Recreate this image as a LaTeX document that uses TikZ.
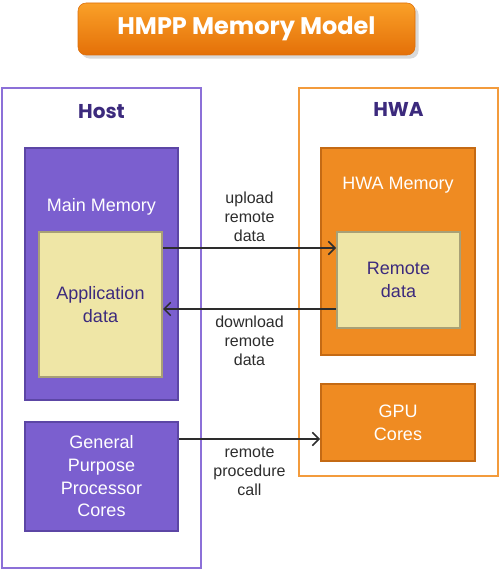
\documentclass[tikz,border=0pt]{standalone}
\usepackage{fontspec}
\setmainfont{Liberation Sans}
\newfontfamily\titlefont{Poppins}
\usetikzlibrary{positioning,shadows,arrows.meta}
\definecolor{hostline}{RGB}{140,112,216}
\definecolor{hostfill}{RGB}{123,95,207}
\definecolor{hostdark}{RGB}{92,70,165}
\definecolor{hwaline}{RGB}{243,155,60}
\definecolor{hwafill}{RGB}{239,139,34}
\definecolor{hwadark}{RGB}{196,106,20}
\definecolor{datafill}{RGB}{239,230,166}
\definecolor{dataline}{RGB}{168,160,118}
\definecolor{inkpurple}{RGB}{60,42,125}
\definecolor{inkgray}{RGB}{45,45,45}

\begin{document}
\begin{tikzpicture}[x=0.75pt, y=-0.75pt,
    outer/.style={draw, line width=1.5pt, inner sep=0pt},
    block/.style={draw, line width=1.5pt, inner sep=0pt, align=center, text=white,
        font=\fontsize{13.5}{17}\selectfont},
    datablock/.style={draw=dataline, fill=datafill, line width=1.5pt, inner sep=0pt,
        align=center, text=inkpurple, font=\fontsize{13.5}{17}\selectfont},
    sidelabel/.style={text=inkpurple, font=\titlefont\bfseries\fontsize{15}{18}\selectfont},
    boxlabel/.style={text=white, font=\fontsize{13.5}{17}\selectfont},
    flow/.style={-{Straight Barb[length=5pt,width=10pt]}, line width=1.1pt, draw=inkgray},
    flowtext/.style={align=center, text=inkgray, font=\fontsize{12}{14.25}\selectfont}]
    \useasboundingbox (0,0) rectangle (500,570);

    % title
    \node[rounded corners=6pt, minimum width=252.75pt, minimum height=39pt,
        top color={rgb,255:red,250;green,160;blue,40}, bottom color={rgb,255:red,228;green,112;blue,8},
        draw={rgb,255:red,220;green,110;blue,10}, drop shadow={opacity=0.3},
        text=white, font=\titlefont\bfseries\fontsize{18}{22}\selectfont] (title) at (246.5,29) {HMPP Memory Model};

    % host side
    \node[outer, draw=hostline, minimum width=149.25pt, minimum height=360pt] (host) at (101.5,328) {};
    \node[sidelabel] (hostlabel) at (101.5,112) {Host};
    \node[block, draw=hostdark, fill=hostfill, minimum width=114.75pt, minimum height=189pt] (mainmem) at (101.5,274) {};
    \node[boxlabel] (mainmemlabel) at (101.5,207) {Main Memory};
    \node[datablock, minimum width=92.25pt, minimum height=108.75pt] (appdata) at (100.5,304.5) {Application\\data};
    \node[block, draw=hostdark, fill=hostfill, minimum width=114.75pt, minimum height=81.75pt] (gpp) at (101.5,476.5) {General\\Purpose\\Processor\\Cores};

    % hwa side
    \node[outer, draw=hwaline, minimum width=149.25pt, minimum height=291pt] (hwa) at (398.5,282) {};
    \node[sidelabel] (hwalabel) at (398.5,109) {HWA};
    \node[block, draw=hwadark, fill=hwafill, minimum width=115.5pt, minimum height=155.25pt] (hwamem) at (398,251.5) {};
    \node[boxlabel] (hwamemlabel) at (398,185) {HWA Memory};
    \node[datablock, minimum width=92.25pt, minimum height=72pt] (remote) at (398.5,280) {Remote\\data};
    \node[block, draw=hwadark, fill=hwafill, minimum width=115.5pt, minimum height=57.75pt] (gpu) at (398,422.5) {GPU\\Cores};

    % transfers
    \coordinate (up) at (250,248);
    \coordinate (down) at (250,309);
    \coordinate (call) at (250,439);
    \draw[flow] (appdata.east |- up) -- (remote.west |- up) node[midway, above=1pt, flowtext] {upload\\remote\\data};
    \draw[flow] (remote.west |- down) -- (appdata.east |- down) node[midway, below=1pt, flowtext] {download\\remote\\data};
    \draw[flow] (gpp.east |- call) -- (gpu.west |- call) node[midway, below=2pt, flowtext] {remote\\procedure\\call};
\end{tikzpicture}
\end{document}
